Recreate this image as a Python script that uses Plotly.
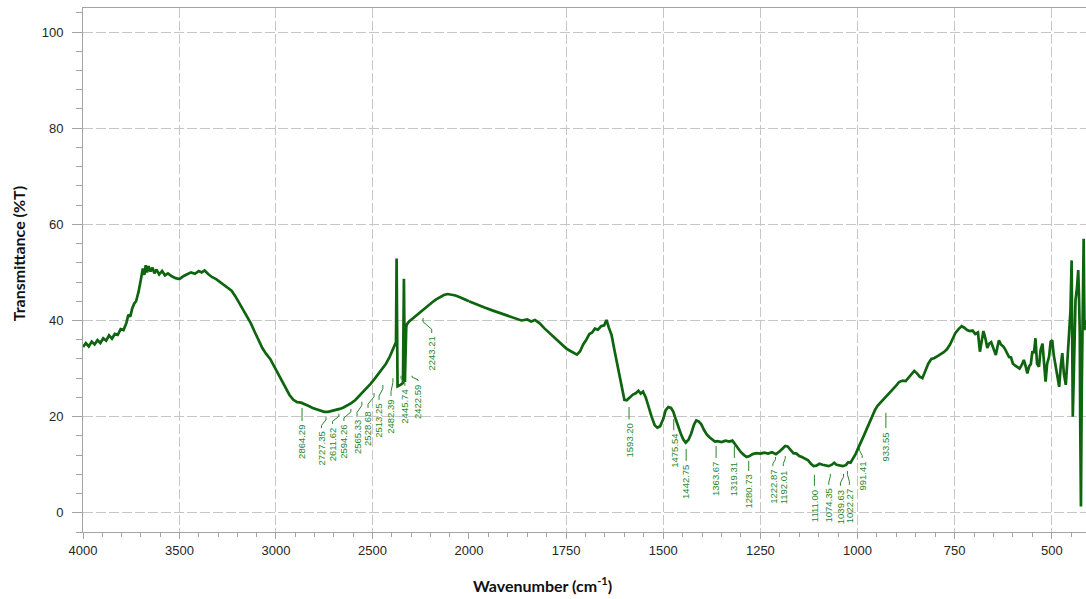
import plotly.graph_objects as go

# ---------------- data ----------------
# high-wavenumber part (4000 -> 2000 cm-1), compressed scale
wn_high = [4000, 3985, 3970, 3955, 3940, 3925, 3910, 3895, 3880, 3865, 3850, 3835, 3820,
           3805, 3790, 3775, 3765, 3755, 3745, 3735, 3725, 3712, 3700, 3690, 3682, 3675,
           3668, 3660, 3650, 3640, 3630, 3620, 3605, 3590, 3575, 3560, 3540, 3520, 3500,
           3480, 3460, 3440, 3420, 3400, 3385, 3370, 3350, 3330, 3310, 3290, 3270, 3250,
           3230, 3210, 3190, 3170, 3150, 3130, 3110, 3090, 3070, 3050, 3030, 3010, 2990,
           2970, 2950, 2930, 2910, 2890, 2870, 2850, 2830, 2810, 2790, 2770, 2750, 2730,
           2710, 2690, 2670, 2650, 2630, 2610, 2590, 2570, 2550, 2530, 2510, 2490, 2470,
           2450, 2430, 2410, 2395, 2385, 2378, 2375, 2370, 2355, 2342, 2337, 2332, 2325,
           2322, 2310, 2290, 2270, 2250, 2230, 2210, 2190, 2170, 2150, 2130, 2110, 2090,
           2070, 2050, 2030, 2010, 2000]
t_high = [34.5, 35.3, 34.6, 35.6, 35.0, 35.9, 35.3, 36.3, 35.8, 36.9, 36.2, 37.2, 37.0,
          38.2, 38.0, 39.5, 41.2, 40.8, 42.5, 43.5, 44.0, 46.0, 48.5, 50.8, 49.5, 51.5,
          50.0, 51.3, 50.2, 51.0, 49.8, 50.6, 49.6, 50.3, 49.4, 49.8, 49.2, 48.8, 48.6,
          49.2, 49.6, 50.0, 49.7, 50.3, 50.0, 50.4, 49.6, 49.0, 48.6, 48.0, 47.4, 46.8,
          46.2, 45.0, 43.6, 42.2, 40.8, 39.4, 37.6, 35.8, 34.2, 33.0, 32.0, 30.5, 29.0,
          27.5, 26.0, 24.5, 23.5, 23.0, 22.9, 22.6, 22.2, 21.8, 21.5, 21.3, 21.0, 21.0,
          21.2, 21.3, 21.6, 21.9, 22.3, 22.8, 23.4, 24.2, 25.0, 25.8, 26.8, 27.8, 28.8,
          29.8, 31.0, 32.5, 34.0, 34.8, 35.5, 52.9, 26.3, 26.6, 27.0, 48.7, 27.2, 38.6,
          39.2, 39.8, 40.5, 41.2, 41.8, 42.5, 43.2, 43.8, 44.4, 44.9, 45.3, 45.5, 45.4,
          45.2, 44.9, 44.6, 44.2, 44.0]

# low-wavenumber part (2000 -> 412 cm-1), expanded scale
wn_low = [2000, 1980, 1960, 1940, 1920, 1900, 1880, 1865, 1850, 1840, 1830, 1818, 1805,
          1790, 1775, 1760, 1750, 1740, 1730, 1722, 1714, 1706, 1698, 1690, 1683, 1676,
          1668, 1660, 1652, 1646, 1640, 1633, 1626, 1620, 1613, 1606, 1600, 1594, 1586,
          1578, 1570, 1564, 1558, 1552, 1545, 1538, 1530, 1522, 1515, 1508, 1500, 1494,
          1487, 1480, 1474, 1468, 1462, 1455, 1448, 1442, 1435, 1428, 1421, 1415, 1409,
          1402, 1395, 1388, 1381, 1374, 1367, 1360, 1350, 1340, 1330, 1322, 1315, 1308,
          1300, 1292, 1285, 1278, 1270, 1260, 1250, 1240, 1230, 1220, 1210, 1200, 1192,
          1186, 1180, 1172, 1165, 1157, 1150, 1143, 1135, 1127, 1120, 1113, 1106, 1098,
          1090, 1082, 1074, 1066, 1060, 1054, 1046, 1038, 1030, 1024, 1018, 1012, 1005,
          998, 991, 984, 977, 970, 962, 955, 948, 940, 932, 924, 916, 908, 900, 893, 884,
          876, 868, 860, 854, 847, 840, 833, 826, 818, 810, 802, 794, 786, 778, 770, 762,
          755, 748, 740, 732, 725, 718, 711, 704, 697, 690, 685, 680, 676, 671, 666, 661,
          656, 652, 647, 644, 640, 636, 631, 625, 620, 615, 610, 605, 600, 594, 588, 583,
          577, 572, 567, 563, 558, 554, 550, 546, 542, 538, 533, 529, 524, 520, 516, 512,
          507, 503, 499, 495, 490, 485, 481, 477, 473, 469, 464, 460, 456, 452, 449, 447,
          446, 443, 439, 435, 432, 430, 428, 427, 425, 423, 421, 419, 418, 416, 414, 412]
t_low = [44.0, 43.3, 42.7, 42.1, 41.5, 41.0, 40.4, 40.0, 40.2, 39.8, 40.1, 39.4, 38.3,
         37.2, 36.0, 35.0, 34.2, 33.7, 33.2, 32.9, 33.6, 35.0, 36.0, 37.2, 37.5, 38.3,
         38.1, 38.8, 39.0, 40.1, 38.5, 37.0, 34.0, 31.5, 28.5, 25.5, 23.5, 23.4, 24.0,
         24.6, 24.9, 25.4, 24.8, 25.2, 24.0, 22.0, 20.0, 18.2, 17.7, 18.0, 19.5, 21.3,
         22.0, 21.8, 21.0, 19.5, 18.0, 16.5, 15.2, 14.6, 15.2, 16.5, 18.3, 19.2, 19.0,
         18.4, 17.2, 16.3, 15.7, 15.2, 14.8, 14.9, 14.7, 15.0, 14.8, 15.0, 14.2, 13.5,
         12.6, 12.0, 11.6, 11.8, 12.2, 12.4, 12.3, 12.5, 12.3, 12.6, 12.2, 12.8, 13.4,
         13.9, 13.8, 13.0, 12.4, 12.3, 11.8, 11.6, 11.2, 10.9, 10.2, 9.7, 9.8, 10.2,
         10.0, 9.8, 9.7, 10.0, 10.4, 10.0, 9.8, 9.7, 9.9, 10.5, 10.4, 11.2, 12.2,
         13.5, 14.6, 16.0, 17.3, 18.6, 20.2, 21.4, 22.3, 23.0, 23.5, 24.2, 25.0, 25.8, 26.5, 27.2, 27.5,
         27.4, 28.2, 28.8, 29.5, 29.0, 28.3, 28.0, 29.5, 31.0, 32.0, 32.2, 32.6, 33.0, 33.4, 34.0, 35.0,
         36.2, 37.4, 38.2, 38.8, 38.5, 38.0, 37.8, 37.9, 37.2, 37.5, 33.5, 36.5, 37.8, 36.3, 34.3, 35.2,
         35.5, 34.6, 33.2, 32.8, 34.5, 35.9, 35.0, 34.6, 34.0, 33.0, 32.4, 32.3, 31.0, 30.6, 30.2, 30.0,
         30.8, 31.8, 30.4, 29.0, 30.5, 30.9, 33.6, 33.2, 36.3, 31.0, 30.4, 33.8, 35.2, 30.0, 27.3, 31.0,
         32.5, 35.6, 35.9, 32.8, 30.4, 28.6, 26.2, 30.5, 33.2, 29.0, 26.6, 31.5, 37.3, 42.0, 52.5, 36.0,
         20.0, 30.0, 44.2, 47.0, 50.5, 45.0, 37.3, 20.0, 1.3, 25.0, 44.2, 50.0, 57.0, 38.0, 40.0, 39.0]

# peak labels (text as printed in the reference)
peak_text = ["2864.29", "2727.35", "2611.62", "2594.26", "2565.33", "2528.68", "2513.25",
             "2482.39", "2445.74", "2422.59", "2243.21", "1593.20", "1475.54", "1442.75",
             "1363.67", "1319.31", "1280.73", "1222.87", "1192.01", "1111.00", "1074.35",
             "1039.63", "1022.27", "991.41", "933.55"]
# where each label's text sits (wavenumber, %T at top of text)
label_wn = [2865, 2764, 2707, 2648, 2580, 2523, 2466, 2404, 2332, 2264, 2193,
            1588, 1473, 1441, 1364, 1317, 1280, 1218, 1191, 1111, 1074, 1044, 1021, 988, 927]
label_top = [18.7, 17.2, 18.1, 18.7, 19.7, 21.4, 23.1, 23.9, 26.0, 27.0, 37.0,
             19.0, 16.8, 10.4, 11.0, 11.0, 8.3, 9.3, 9.3, 5.2, 5.4, 5.2, 5.4, 11.0, 17.2]
# where each label's leader line ends
leader_wn = [2865, 2741, 2674, 2612, 2555, 2492, 2446, 2394, 2352, 2295, 2238,
             1588, 1473, 1441, 1364, 1317, 1280, 1211, 1186, 1111, 1070, 1036, 1026, 995, 927]
leader_end = [21.8, 19.9, 20.6, 21.6, 23.1, 24.9, 26.6, 28.0, 28.5, 28.5, 40.5,
              22.0, 19.5, 13.3, 13.9, 13.9, 10.8, 11.6, 11.8, 7.9, 8.1, 8.1, 8.7, 13.5, 20.8]

x_ticks_high = [4000, 3500, 3000, 2500, 2000]
x_ticks_low = [1750, 1500, 1250, 1000, 750, 500]
y_ticks = [0, 20, 40, 60, 80, 100]

# ---------------- styling ----------------
LINE = "#0f640f"
LABEL = "#2a862a"
GRID = "#c6c6c6"
AXIS = "#a3a3a3"
TICKFONT = dict(family="Liberation Sans, Arial, sans-serif", size=13, color="#262626")
TITLEFONT = dict(family="Lato, Open Sans, sans-serif", size=16, color="#111")
SPLIT = 0.3848

fig = go.Figure()
fig.add_trace(go.Scatter(x=wn_high, y=t_high, mode="lines", xaxis="x", yaxis="y",
                         line=dict(color=LINE, width=2.7), showlegend=False, hoverinfo="skip"))
fig.add_trace(go.Scatter(x=wn_low, y=t_low, mode="lines", xaxis="x2", yaxis="y",
                         line=dict(color=LINE, width=2.7), showlegend=False, hoverinfo="skip"))

annotations = []
shapes = []
for txt, xw, yt, xe, ye in zip(peak_text, label_wn, label_top, leader_wn, leader_end):
    xr = "x" if xw >= 2000 else "x2"
    annotations.append(dict(x=xw, y=yt, xref=xr, yref="y", text=txt, textangle=-90,
                            showarrow=False, xanchor="center", yanchor="top",
                            font=dict(family="Liberation Sans, Arial, sans-serif", size=9.5, color=LABEL)))
    y0 = yt + 0.4
    if xe == xw:
        path = f"M {xw} {y0} L {xe} {ye}"
    else:
        span = ye - y0
        path = (f"M {xw} {y0} L {xw} {y0 + 0.25 * span} "
                f"L {xe} {ye - 0.25 * span} L {xe} {ye}")
    shapes.append(dict(type="path", path=path, xref=xr, yref="y",
                       line=dict(color=LABEL, width=1)))

annotations.append(dict(text="<b>Wavenumber (cm<sup>-1</sup>)</b>", xref="paper", yref="paper",
                        x=0.4586, y=-0.101, xanchor="center", yanchor="middle", showarrow=False,
                        font=TITLEFONT))
annotations.append(dict(text="<b>Transmittance (%T)</b>", xref="paper", yref="paper",
                        x=-0.0648, y=0.53, xanchor="center", yanchor="middle", showarrow=False,
                        textangle=-90, font=TITLEFONT))

xcommon = dict(showgrid=True, gridcolor=GRID, griddash="10px,3px", gridwidth=1,
               showline=True, linecolor=AXIS, linewidth=1, mirror=True,
               ticks="outside", ticklen=6, tickcolor=AXIS, zeroline=False,
               tickfont=TICKFONT, anchor="y", fixedrange=True, automargin=False)

fig.update_layout(
    template="none",
    width=1086, height=599,
    margin=dict(l=83, r=0, t=8, b=67, pad=0),
    paper_bgcolor="white", plot_bgcolor="white",
    showlegend=False,
    xaxis=dict(domain=[0, SPLIT], range=[4000, 2000], tickmode="array", tickvals=x_ticks_high,
               minor=dict(ticks="outside", dtick=100, tick0=0, ticklen=4, tickcolor=AXIS, showgrid=False),
               **xcommon),
    xaxis2=dict(domain=[SPLIT, 1], range=[2000, 412], tickmode="array", tickvals=x_ticks_low,
                minor=dict(ticks="outside", dtick=50, tick0=0, ticklen=4, tickcolor=AXIS, showgrid=False),
                **xcommon),
    yaxis=dict(range=[-4, 105], tickmode="array", tickvals=y_ticks, anchor="x",
               showgrid=True, gridcolor=GRID, griddash="10px,3px", gridwidth=1,
               showline=True, linecolor=AXIS, linewidth=1, zeroline=False,
               ticks="outside", ticklen=10, tickcolor=AXIS, tickfont=TICKFONT,
               ticklabelstandoff=6,
               minor=dict(ticks="outside", dtick=4, tick0=0, ticklen=6, tickcolor=AXIS, showgrid=False),
               fixedrange=True, automargin=False),
    annotations=annotations,
    shapes=shapes,
)

fig.write_html("out.html", config={"displayModeBar": False},
               post_script="document.body.style.margin='0';document.body.style.overflow='hidden';")
